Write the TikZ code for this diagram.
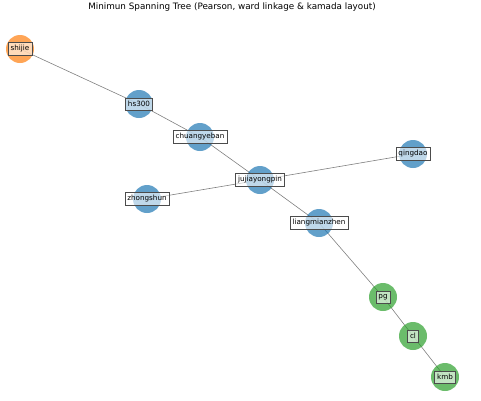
\documentclass[tikz,border=0pt]{standalone}
\usepackage{fontspec}
\setmainfont{DejaVu Sans}
\definecolor{nblue}{HTML}{1F77B4}
\definecolor{norange}{HTML}{FF7F0E}
\definecolor{ngreen}{HTML}{2CA02C}
\begin{document}
\begin{tikzpicture}[x=1pt,y=-1pt,
  dot/.style={circle,minimum size=28pt,inner sep=0pt,fill=#1,fill opacity=0.7,draw=none},
  lbl/.style={draw=black!70,line width=0.5pt,fill=white,fill opacity=0.6,text opacity=1,font=\fontsize{7.2}{8}\selectfont,inner xsep=2.4pt,inner ysep=3pt},
  edge/.style={draw=gray,line width=0.6pt}]
\useasboundingbox (0,0) rectangle (481,400);
\node[font=\fontsize{8.8}{10}\selectfont] (title) at (232,7) {Minimun Spanning Tree (Pearson, ward linkage \& kamada layout)};
\coordinate (shijie) at (20,49);
\coordinate (hs300) at (139,104);
\coordinate (chuangyeban) at (200,137);
\coordinate (jujiayongpin) at (260,180);
\coordinate (qingdao) at (413,154);
\coordinate (zhongshun) at (147,199);
\coordinate (liangmianzhen) at (319,223);
\coordinate (pg) at (383,297);
\coordinate (cl) at (413,336);
\coordinate (kmb) at (445,377);
\draw[edge] (shijie) -- (hs300) -- (chuangyeban) -- (jujiayongpin) -- (qingdao);
\draw[edge] (jujiayongpin) -- (zhongshun);
\draw[edge] (jujiayongpin) -- (liangmianzhen) -- (pg) -- (cl) -- (kmb);
\node[dot=norange] (cshijie) at (shijie) {};
\foreach \n in {hs300,chuangyeban,jujiayongpin,qingdao,zhongshun,liangmianzhen}
  \node[dot=nblue] (c\n) at (\n) {};
\foreach \n in {pg,cl,kmb}
  \node[dot=ngreen] (c\n) at (\n) {};
\foreach \n in {shijie,hs300,chuangyeban,jujiayongpin,qingdao,zhongshun,liangmianzhen,pg,cl,kmb}
  \node[lbl] (l\n) at (\n) {\n};
\end{tikzpicture}
\end{document}
